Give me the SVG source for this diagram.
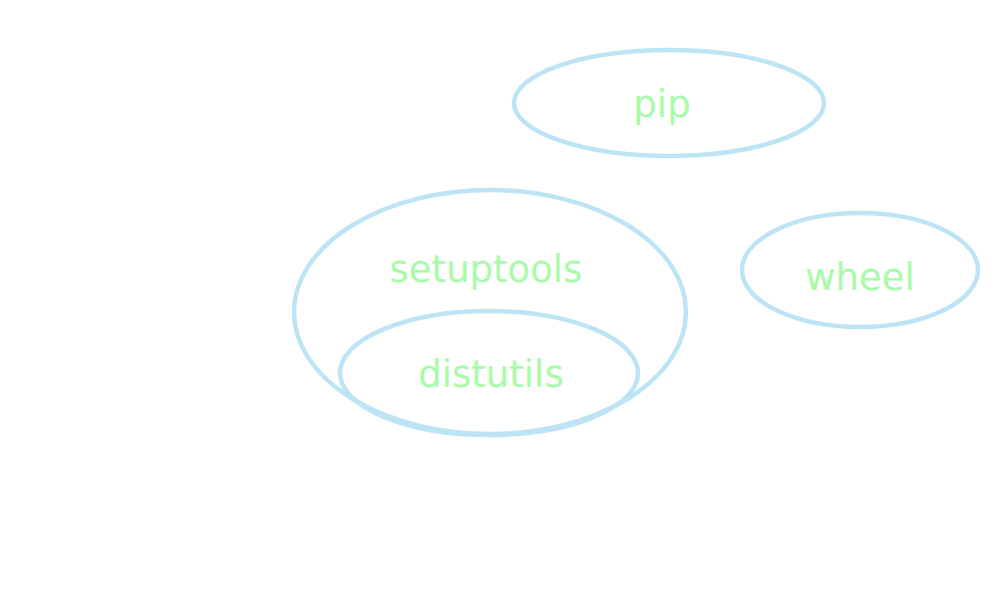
<svg xmlns="http://www.w3.org/2000/svg" width="1000" height="600" viewBox="0 0 1000 600">
<style>
.n{fill:none;stroke:#bde4f4;stroke-width:4.5}
.t{fill:#a8fba8;font-family:"DejaVu Sans",sans-serif;font-size:37px;text-anchor:middle}
</style>
<rect width="1000" height="600" fill="#fff"/>
<g id="connectors"/>
<g id="pip"><ellipse class="n" cx="669" cy="103" rx="155" ry="53"/><text class="t" x="662" y="117">pip</text></g>
<g id="setuptools"><ellipse class="n" cx="490" cy="312" rx="196" ry="122"/><text class="t" x="486" y="282">setuptools</text></g>
<g id="distutils"><ellipse class="n" cx="489" cy="373" rx="149" ry="62"/><text class="t" x="491" y="387">distutils</text></g>
<g id="wheel"><ellipse class="n" cx="860" cy="270" rx="118" ry="57"/><text class="t" x="860" y="290">wheel</text></g>
</svg>
